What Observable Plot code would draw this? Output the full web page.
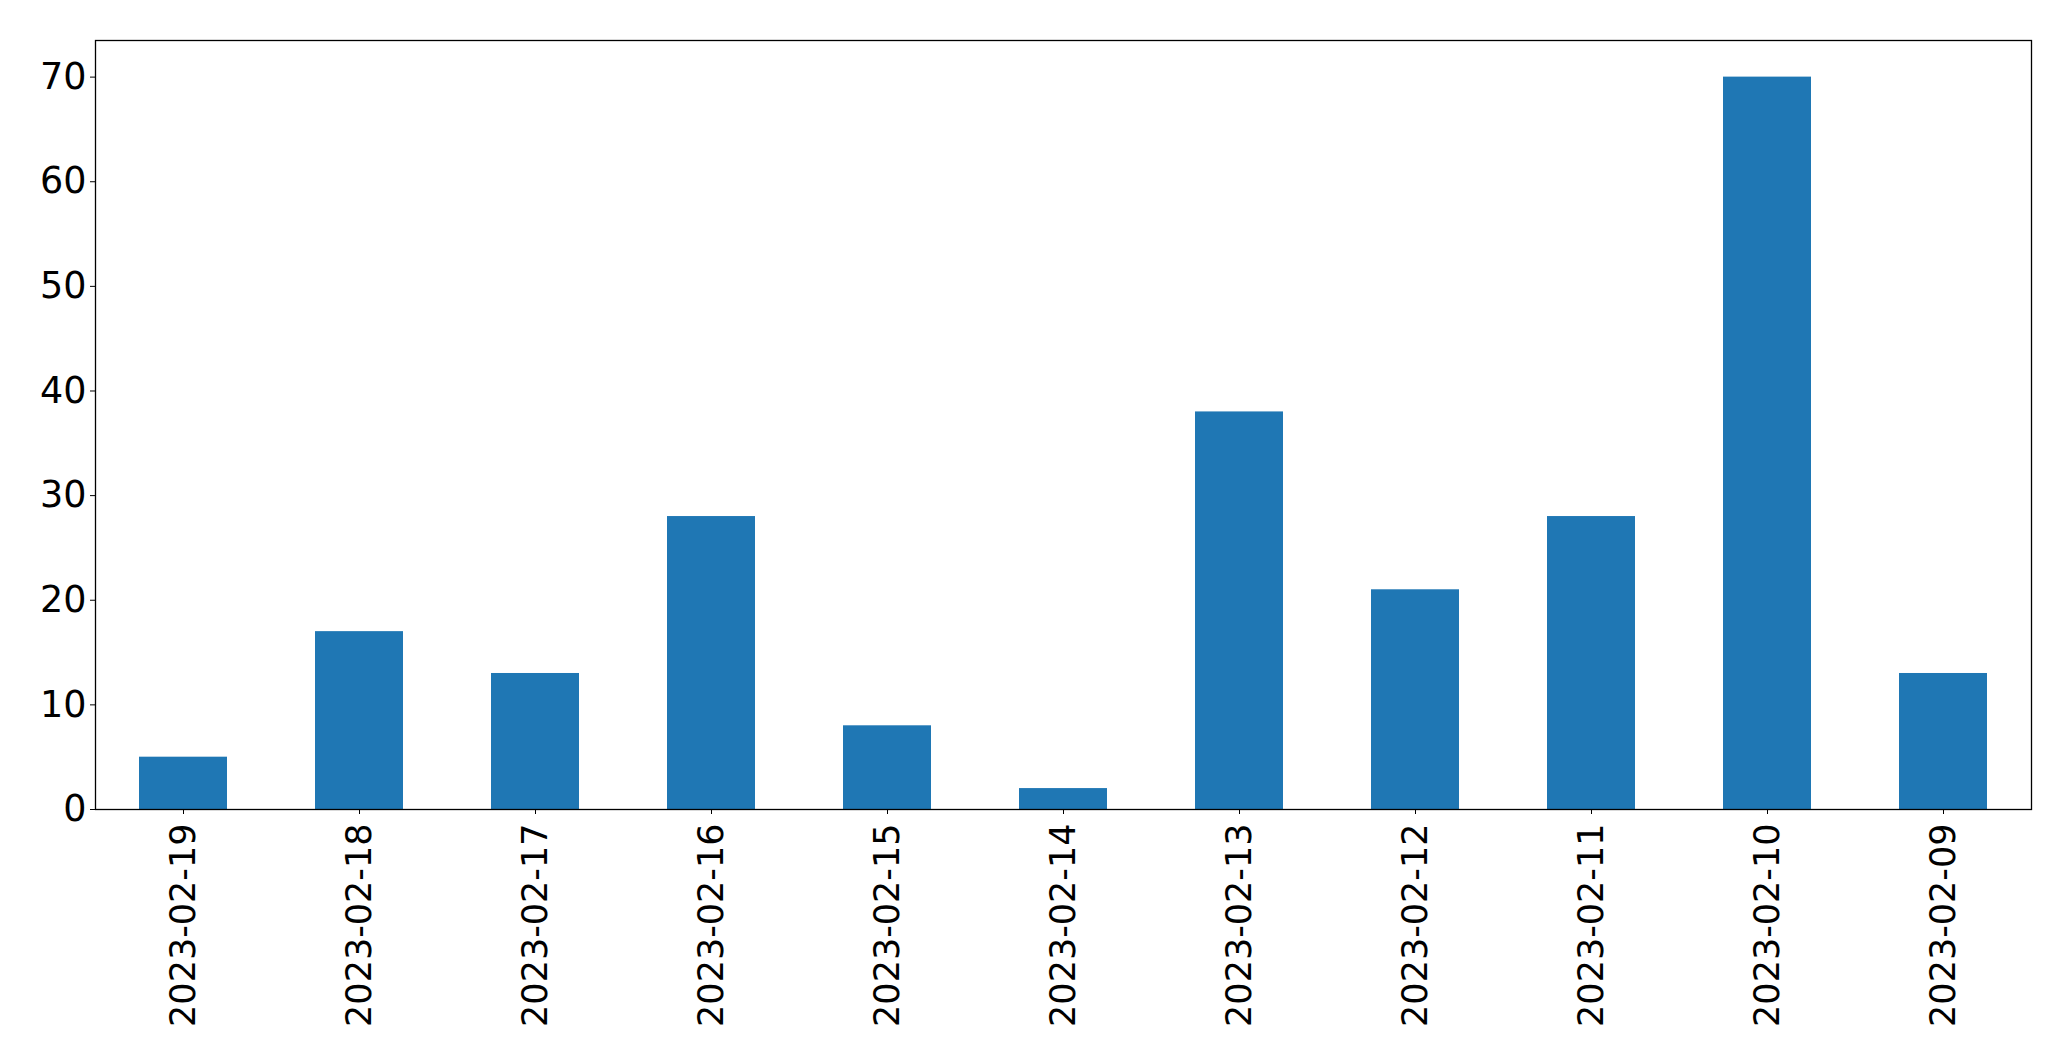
<!DOCTYPE html>
<html>
<head>
<meta charset="utf-8">
<script src="https://cdn.jsdelivr.net/npm/d3@7"></script>
<script src="https://cdn.jsdelivr.net/npm/@observablehq/plot@0.6"></script>
<style>
  html, body { margin: 0; padding: 0; background: white; }
  #chart svg { display: block; }
</style>
</head>
<body>
<div id="chart"></div>
<script>
const dates = ["2023-02-19","2023-02-18","2023-02-17","2023-02-16","2023-02-15","2023-02-14","2023-02-13","2023-02-12","2023-02-11","2023-02-10","2023-02-09"];
const counts = [5, 17, 13, 28, 8, 2, 38, 21, 28, 70, 13];
const yTicks = [0, 10, 20, 30, 40, 50, 60, 70];

const data = dates.map((d, i) => ({date: d, count: counts[i]}));

const chart = Plot.plot({
  width: 2071,
  height: 1061,
  marginLeft: 95,
  marginRight: 40,
  marginTop: 40,
  marginBottom: 252,
  style: {fontFamily: "DejaVu Sans", fontSize: "35px", background: "white", color: "black", overflow: "visible"},
  x: {domain: dates, paddingInner: 0.5, paddingOuter: 0.25, label: null},
  y: {domain: [0, 73.5], label: null},
  marks: [
    Plot.barY(data, {x: "date", y: "count", fill: "#1f77b4"}),
    Plot.axisX({tickRotate: -90, tickSize: 5, tickPadding: 9, fontSize: 35, label: null}),
    Plot.axisY(yTicks, {tickSize: 5, tickPadding: 4, fontSize: 36.5, label: null}),
    Plot.frame({stroke: "black", strokeWidth: 1.3})
  ]
});
document.getElementById("chart").appendChild(chart);
</script>
</body>
</html>
